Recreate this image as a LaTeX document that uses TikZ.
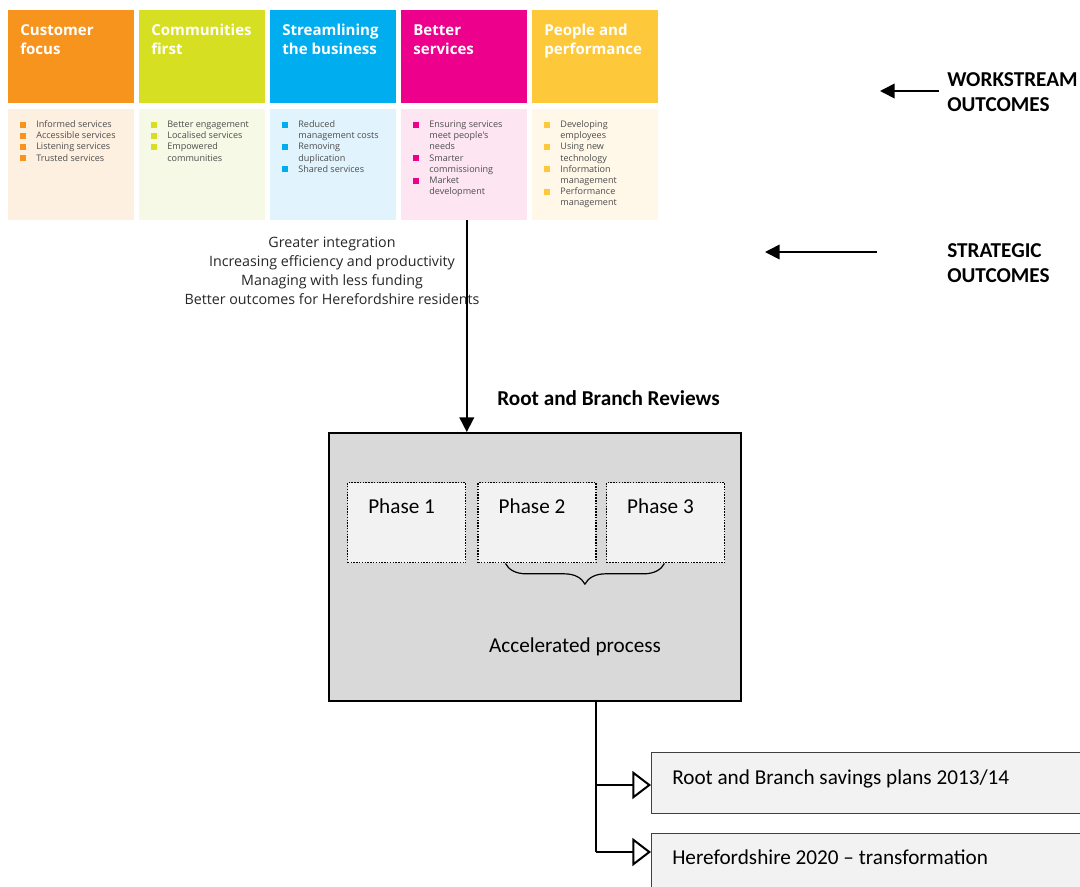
\documentclass[tikz,border=0pt]{standalone}
\usepackage{fontspec}
\setmainfont{Carlito}
\newfontfamily\frfont{Open Sans}
\usetikzlibrary{positioning,arrows.meta,decorations.pathreplacing}

\definecolor{cfOrange}{HTML}{F7941D}
\definecolor{cfLight}{HTML}{FEF0E1}
\definecolor{cmLime}{HTML}{D7DF23}
\definecolor{cmLight}{HTML}{F7F9E7}
\definecolor{sbCyan}{HTML}{00AEEF}
\definecolor{sbLight}{HTML}{E1F3FC}
\definecolor{bsMagenta}{HTML}{EC008C}
\definecolor{bsLight}{HTML}{FDE6F2}
\definecolor{ppYellow}{HTML}{FDC93A}
\definecolor{ppLight}{HTML}{FFF8E9}
\definecolor{bulletgray}{HTML}{4D4D4D}
\definecolor{boxgray}{HTML}{D9D9D9}
\definecolor{phasegray}{HTML}{F2F2F2}

\newcommand{\bul}[1]{\makebox[12pt][l]{\textcolor{#1}{\rule{4.5pt}{4.5pt}}}}
\newcommand{\bind}{\hspace*{12pt}}

\tikzset{
  hdr/.style={anchor=north west, minimum width=94.125pt, minimum height=69.75pt, inner sep=0pt},
  bodybox/.style={minimum width=94.125pt, minimum height=83.25pt, inner sep=0pt},
  hdrtitle/.style={anchor=base west, inner sep=0pt, text=white,
    font=\frfont\bfseries\fontsize{11.3}{14.25}\selectfont},
  blist/.style={anchor=base west, inner sep=0pt, text=bulletgray,
    font=\frfont\fontsize{6.8}{8.4}\selectfont},
  strat/.style={anchor=base, inner sep=0pt, text=black!85,
    font=\frfont\fontsize{10.7}{14.25}\selectfont},
  maintxt/.style={anchor=base west, inner sep=0pt, font=\fontsize{15.9}{18.75}\selectfont},
  sidetxt/.style={maintxt, font=\bfseries\fontsize{15.9}{18.75}\selectfont},
  phase/.style={draw, densely dotted, line width=1.1pt, fill=phasegray,
    minimum width=88.5pt, minimum height=60pt, inner sep=0pt},
  outbox/.style={draw=black!75, line width=1.1pt, fill=phasegray, anchor=north west,
    minimum width=375pt, inner sep=0pt},
  arr/.style={line width=1.3pt, -{Triangle[width=11pt,length=11pt]}},
  openarr/.style={line width=1.5pt, -{Triangle[open,width=21pt,length=14pt,fill=white]}}
}

\begin{document}
\begin{tikzpicture}[x=0.75pt, y=-0.75pt]
  \useasboundingbox (0,0) rectangle (1080,886);

  % workstream headers
  \node[hdr, fill=cfOrange] (cf) at (8,10) {};
  \node[hdr, fill=cmLime, right=3.75pt of cf] (cm) {};
  \node[hdr, fill=sbCyan, right=3.75pt of cm] (sb) {};
  \node[hdr, fill=bsMagenta, right=3.75pt of sb] (bs) {};
  \node[hdr, fill=ppYellow, right=3.75pt of bs] (pp) {};

  \node[hdrtitle] (cft) at ([xshift=9pt,yshift=-18.75pt]cf.north west) {\begin{tabular}[t]{@{}l@{}}Customer\\focus\end{tabular}};
  \node[hdrtitle] (cmt) at ([xshift=9pt,yshift=-18.75pt]cm.north west) {\begin{tabular}[t]{@{}l@{}}Communities\\first\end{tabular}};
  \node[hdrtitle] (sbt) at ([xshift=9pt,yshift=-18.75pt]sb.north west) {\begin{tabular}[t]{@{}l@{}}Streamlining\\the business\end{tabular}};
  \node[hdrtitle] (bst) at ([xshift=9pt,yshift=-18.75pt]bs.north west) {\begin{tabular}[t]{@{}l@{}}Better\\services\end{tabular}};
  \node[hdrtitle] (ppt) at ([xshift=9pt,yshift=-18.75pt]pp.north west) {\begin{tabular}[t]{@{}l@{}}People and\\performance\end{tabular}};

  % workstream outcomes
  \node[bodybox, fill=cfLight, below=3.75pt of cf] (cfb) {};
  \node[bodybox, fill=cmLight, below=3.75pt of cm] (cmb) {};
  \node[bodybox, fill=sbLight, below=3.75pt of sb] (sbb) {};
  \node[bodybox, fill=bsLight, below=3.75pt of bs] (bsb) {};
  \node[bodybox, fill=ppLight, below=3.75pt of pp] (ppb) {};

  \node[blist] (cfl) at ([xshift=9pt,yshift=-14.25pt]cfb.north west) {\begin{tabular}[t]{@{}l@{}}
    \bul{cfOrange}Informed services\\ \bul{cfOrange}Accessible services\\
    \bul{cfOrange}Listening services\\ \bul{cfOrange}Trusted services\end{tabular}};
  \node[blist] (cml) at ([xshift=9pt,yshift=-14.25pt]cmb.north west) {\begin{tabular}[t]{@{}l@{}}
    \bul{cmLime}Better engagement\\ \bul{cmLime}Localised services\\
    \bul{cmLime}Empowered\\ \bind communities\end{tabular}};
  \node[blist] (sbl) at ([xshift=9pt,yshift=-14.25pt]sbb.north west) {\begin{tabular}[t]{@{}l@{}}
    \bul{sbCyan}Reduced\\ \bind management costs\\ \bul{sbCyan}Removing\\
    \bind duplication\\ \bul{sbCyan}Shared services\end{tabular}};
  \node[blist] (bsl) at ([xshift=9pt,yshift=-14.25pt]bsb.north west) {\begin{tabular}[t]{@{}l@{}}
    \bul{bsMagenta}Ensuring services\\ \bind meet people's\\ \bind needs\\
    \bul{bsMagenta}Smarter\\ \bind commissioning\\ \bul{bsMagenta}Market\\ \bind development\end{tabular}};
  \node[blist] (ppl) at ([xshift=9pt,yshift=-14.25pt]ppb.north west) {\begin{tabular}[t]{@{}l@{}}
    \bul{ppYellow}Developing\\ \bind employees\\ \bul{ppYellow}Using new\\ \bind technology\\
    \bul{ppYellow}Information\\ \bind management\\ \bul{ppYellow}Performance\\ \bind management\end{tabular}};

  % strategic outcomes
  \node[strat] (sotext) at (332,247) {\begin{tabular}[t]{@{}c@{}}Greater integration\\
    Increasing efficiency and productivity\\ Managing with less funding\\
    Better outcomes for Herefordshire residents\end{tabular}};

  % side labels
  \node[sidetxt] (wo) at (947,86) {\begin{tabular}[t]{@{}l@{}}WORKSTREAM\\OUTCOMES\end{tabular}};
  \node[sidetxt] (so) at (947,257) {\begin{tabular}[t]{@{}l@{}}STRATEGIC\\OUTCOMES\end{tabular}};
  \coordinate (wotail) at (939,91);
  \coordinate (wotip) at (880,91);
  \coordinate (sotail) at (877,252);
  \coordinate (sotip) at (765,252);
  \draw[arr] (wotail) -- (wotip);
  \draw[arr] (sotail) -- (sotip);

  % root and branch reviews
  \node[sidetxt] (rbrt) at (497,405) {Root and Branch Reviews};
  \node[draw, line width=1.2pt, fill=boxgray, anchor=north west, minimum width=309pt,
    minimum height=201pt, inner sep=0pt] (rbr) at (328,432) {};

  \node[phase, anchor=north west] (ph1) at (347,482) {};
  \node[phase, right=8.25pt of ph1] (ph2) {};
  \node[phase, right=6.75pt of ph2] (ph3) {};
  \node[maintxt] at ([xshift=15.75pt,yshift=-23.25pt]ph1.north west) {Phase 1};
  \node[maintxt] at ([xshift=15.75pt,yshift=-23.25pt]ph2.north west) {Phase 2};
  \node[maintxt] at ([xshift=15.75pt,yshift=-23.25pt]ph3.north west) {Phase 3};

  \draw[decorate, decoration={brace, amplitude=15.5pt}, line width=0.9pt]
    ([xshift=-45.75pt]ph3.south east) -- ([xshift=21pt]ph2.south west);
  \node[maintxt, anchor=base] (acc) at (575,652) {Accelerated process};

  \draw[arr] ([xshift=2pt]bsb.south) -- ([xshift=2pt]bsb.south |- rbr.north);

  % outputs
  \node[outbox, minimum height=45.75pt] (sav) at (651,752) {};
  \node[outbox, minimum height=60pt] (hfd) at (651,833) {};
  \node[maintxt] at (672,784) {Root and Branch savings plans 2013/14};
  \node[maintxt] at (672,864) {Herefordshire 2020 -- transformation};

  \coordinate (tap) at ([xshift=45.75pt]rbr.south);
  \coordinate (savin) at ([yshift=-24.75pt]sav.north west);
  \coordinate (hfdin) at ([yshift=-14.25pt]hfd.north west);
  \draw[line width=1.5pt] (tap) -- (tap |- hfdin);
  \draw[openarr] (tap |- savin) -- (savin);
  \draw[openarr] (tap |- hfdin) -- (hfdin);
\end{tikzpicture}
\end{document}
